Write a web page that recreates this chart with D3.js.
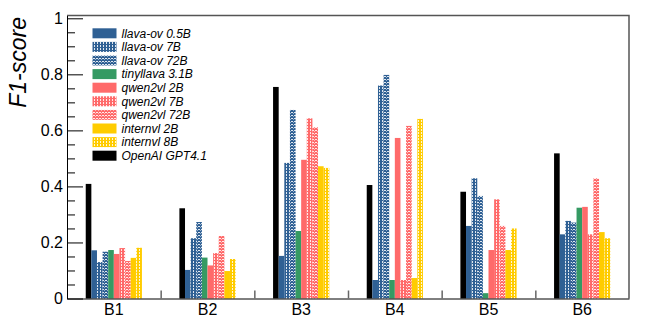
<!DOCTYPE html>
<html>
<head>
<meta charset="utf-8">
<script src="https://cdn.jsdelivr.net/npm/d3@7"></script>
<style>
  body { margin: 0; background: #fff; }
  svg { font-family: "Liberation Sans", Arial, sans-serif; }
</style>
</head>
<body>
<div class="home"></div>
<script>
// categories (benchmarks) and models, in drawing order
const benchmarks = ["B1", "B2", "B3", "B4", "B5", "B6"];
const models = ["OpenAI GPT4.1", "llava-ov 0.5B", "llava-ov 7B", "llava-ov 72B", "tinyllava 3.1B",
                "qwen2vl 2B", "qwen2vl 7B", "qwen2vl 72B", "internvl 2B", "internvl 8B"];
const legendOrder = ["llava-ov 0.5B", "llava-ov 7B", "llava-ov 72B", "tinyllava 3.1B",
                     "qwen2vl 2B", "qwen2vl 7B", "qwen2vl 72B", "internvl 2B", "internvl 8B", "OpenAI GPT4.1"];

// F1-score per model, one value per benchmark B1..B6
const gpt41      = [0.409, 0.322, 0.755, 0.405, 0.381, 0.518];
const llava05    = [0.172, 0.102, 0.152, 0.066, 0.259, 0.229];
const llava7     = [0.130, 0.215, 0.484, 0.760, 0.429, 0.277];
const llava72    = [0.167, 0.273, 0.673, 0.798, 0.366, 0.271];
const tinyllava  = [0.173, 0.146, 0.241, 0.066, 0.019, 0.324];
const qwen2      = [0.159, 0.118, 0.495, 0.573, 0.173, 0.327];
const qwen7      = [0.180, 0.162, 0.643, 0.066, 0.354, 0.229];
const qwen72     = [0.134, 0.223, 0.611, 0.616, 0.259, 0.429];
const internvl2  = [0.145, 0.098, 0.472, 0.073, 0.173, 0.237];
const internvl8  = [0.181, 0.141, 0.466, 0.641, 0.250, 0.215];
const yTicks = [0, 0.2, 0.4, 0.6, 0.8, 1];

const seriesValues = [gpt41, llava05, llava7, llava72, tinyllava, qwen2, qwen7, qwen72, internvl2, internvl8];

const width = 662, height = 321;
const mLeft = 67, mRight = 629, mTop = 15.5, mBottom = 298.5;

// colour + fill style of each model
const style = {
  "OpenAI GPT4.1":  {c: "#000000", p: null},
  "llava-ov 0.5B":  {c: "#2f6094", p: null},
  "llava-ov 7B":    {c: "#2f6094", p: "vdots"},
  "llava-ov 72B":   {c: "#2f6094", p: "hdots"},
  "tinyllava 3.1B": {c: "#359a63", p: null},
  "qwen2vl 2B":     {c: "#ff6a6a", p: null},
  "qwen2vl 7B":     {c: "#ff6a6a", p: "vdots"},
  "qwen2vl 72B":    {c: "#ff6a6a", p: "hdots"},
  "internvl 2B":    {c: "#ffcc00", p: null},
  "internvl 8B":    {c: "#ffcc00", p: "vdots"}
};

const svg = d3.select(".home").append("svg")
  .attr("width", width)
  .attr("height", height);

// patterns for the hatched bars
const defs = svg.append("defs");
function fillOf(name) {
  const s = style[name];
  if (!s.p) return s.c;
  const id = "pat" + name.replace(/[^a-z0-9]/gi, "");
  if (defs.select("#" + id).empty()) {
    const pat = defs.append("pattern").attr("id", id)
      .attr("patternUnits", "userSpaceOnUse")
      .attr("width", 3).attr("height", 3);
    pat.append("rect").attr("width", 3).attr("height", 3).attr("fill", s.c);
    if (s.p == "vdots") {
      pat.append("rect").attr("x", 1).attr("y", 0).attr("width", 1).attr("height", 2).attr("fill", "#fff").attr("opacity", 0.85);
    } else {
      pat.append("rect").attr("x", 0).attr("y", 1).attr("width", 2).attr("height", 1).attr("fill", "#fff").attr("opacity", 0.85);
      pat.append("rect").attr("x", 2).attr("y", 2).attr("width", 1).attr("height", 1).attr("fill", "#fff").attr("opacity", 0.5);
    }
  }
  return "url(#" + id + ")";
}

// scales
const x = d3.scaleBand().domain(benchmarks).range([mLeft, mRight]).padding(0);
const bw = x.bandwidth();
const inner = d3.scaleBand().domain(models).range([0.2 * bw, 0.8 * bw]).padding(0);
const y = d3.scaleLinear().domain([0, 1.01]).range([mBottom, mTop]);

// bars
const rows = [];
benchmarks.forEach((b, i) => {
  models.forEach((m, j) => rows.push({b: b, m: m, v: seriesValues[j][i]}));
});
svg.append("g").selectAll("rect")
  .data(rows)
  .enter()
  .append("rect")
  .attr("x", d => x(d.b) + inner(d.m))
  .attr("width", inner.bandwidth())
  .attr("y", d => y(d.v))
  .attr("height", d => y(0) - y(d.v))
  .attr("fill", d => fillOf(d.m));

// frame: top and right borders
svg.append("path")
  .attr("d", `M${mLeft},${mTop}H${mRight}V${mBottom}`)
  .attr("fill", "none")
  .attr("stroke", "#555")
  .attr("stroke-width", 1.5);

// y axis, ticks pointing inward
const yAxis = d3.axisLeft(y).tickValues(yTicks).tickSizeInner(-16).tickSizeOuter(0).tickPadding(4)
  .tickFormat(d3.format("~g"));
const gy = svg.append("g").attr("transform", `translate(${mLeft},0)`).call(yAxis);
gy.selectAll("text").style("font-size", "16px").attr("fill", "#000");
gy.select(".domain").attr("stroke", "#000");

const minorTicks = d3.range(0, 1.001, 0.05).filter(v => Math.abs(v * 5 - Math.round(v * 5)) > 1e-6);
svg.append("g").attr("transform", `translate(${mLeft},0)`)
  .call(d3.axisLeft(y).tickValues(minorTicks).tickSizeInner(-8).tickSizeOuter(0).tickFormat(""))
  .select(".domain").remove();

// x axis: tick marks at bin edges, labels at bin centres
const edge = d3.scaleLinear().domain([0, benchmarks.length]).range([mLeft, mRight]);
svg.append("g").attr("transform", `translate(0,${mBottom})`)
  .call(d3.axisBottom(edge).tickValues(d3.range(1, benchmarks.length)).tickSizeInner(-8).tickSizeOuter(0).tickFormat(""))
  .call(g => g.selectAll(".tick line").attr("stroke", "#666").attr("stroke-width", 1.5))
  .select(".domain").attr("stroke", "#000");
const gx = svg.append("g").attr("transform", `translate(0,${mBottom})`)
  .call(d3.axisBottom(x).tickSize(0).tickPadding(5));
gx.select(".domain").remove();
gx.selectAll("text").style("font-size", "16px").attr("fill", "#000");

// y title
svg.append("text")
  .attr("transform", "translate(26,17) rotate(-90)")
  .attr("text-anchor", "end")
  .style("font-size", "23px")
  .style("font-style", "italic")
  .text("F1-score");

// legend
const legend = svg.append("g");
legendOrder.forEach((m, i) => {
  const cy = 33.3 + i * 13.6;
  legend.append("rect")
    .attr("x", 92.5).attr("y", cy - 5)
    .attr("width", 24).attr("height", 10)
    .attr("fill", fillOf(m));
  legend.append("text")
    .attr("x", 121.5).attr("y", cy + 4.2)
    .style("font-size", "12px")
    .style("font-style", "italic")
    .text(m);
});
</script>
</body>
</html>
